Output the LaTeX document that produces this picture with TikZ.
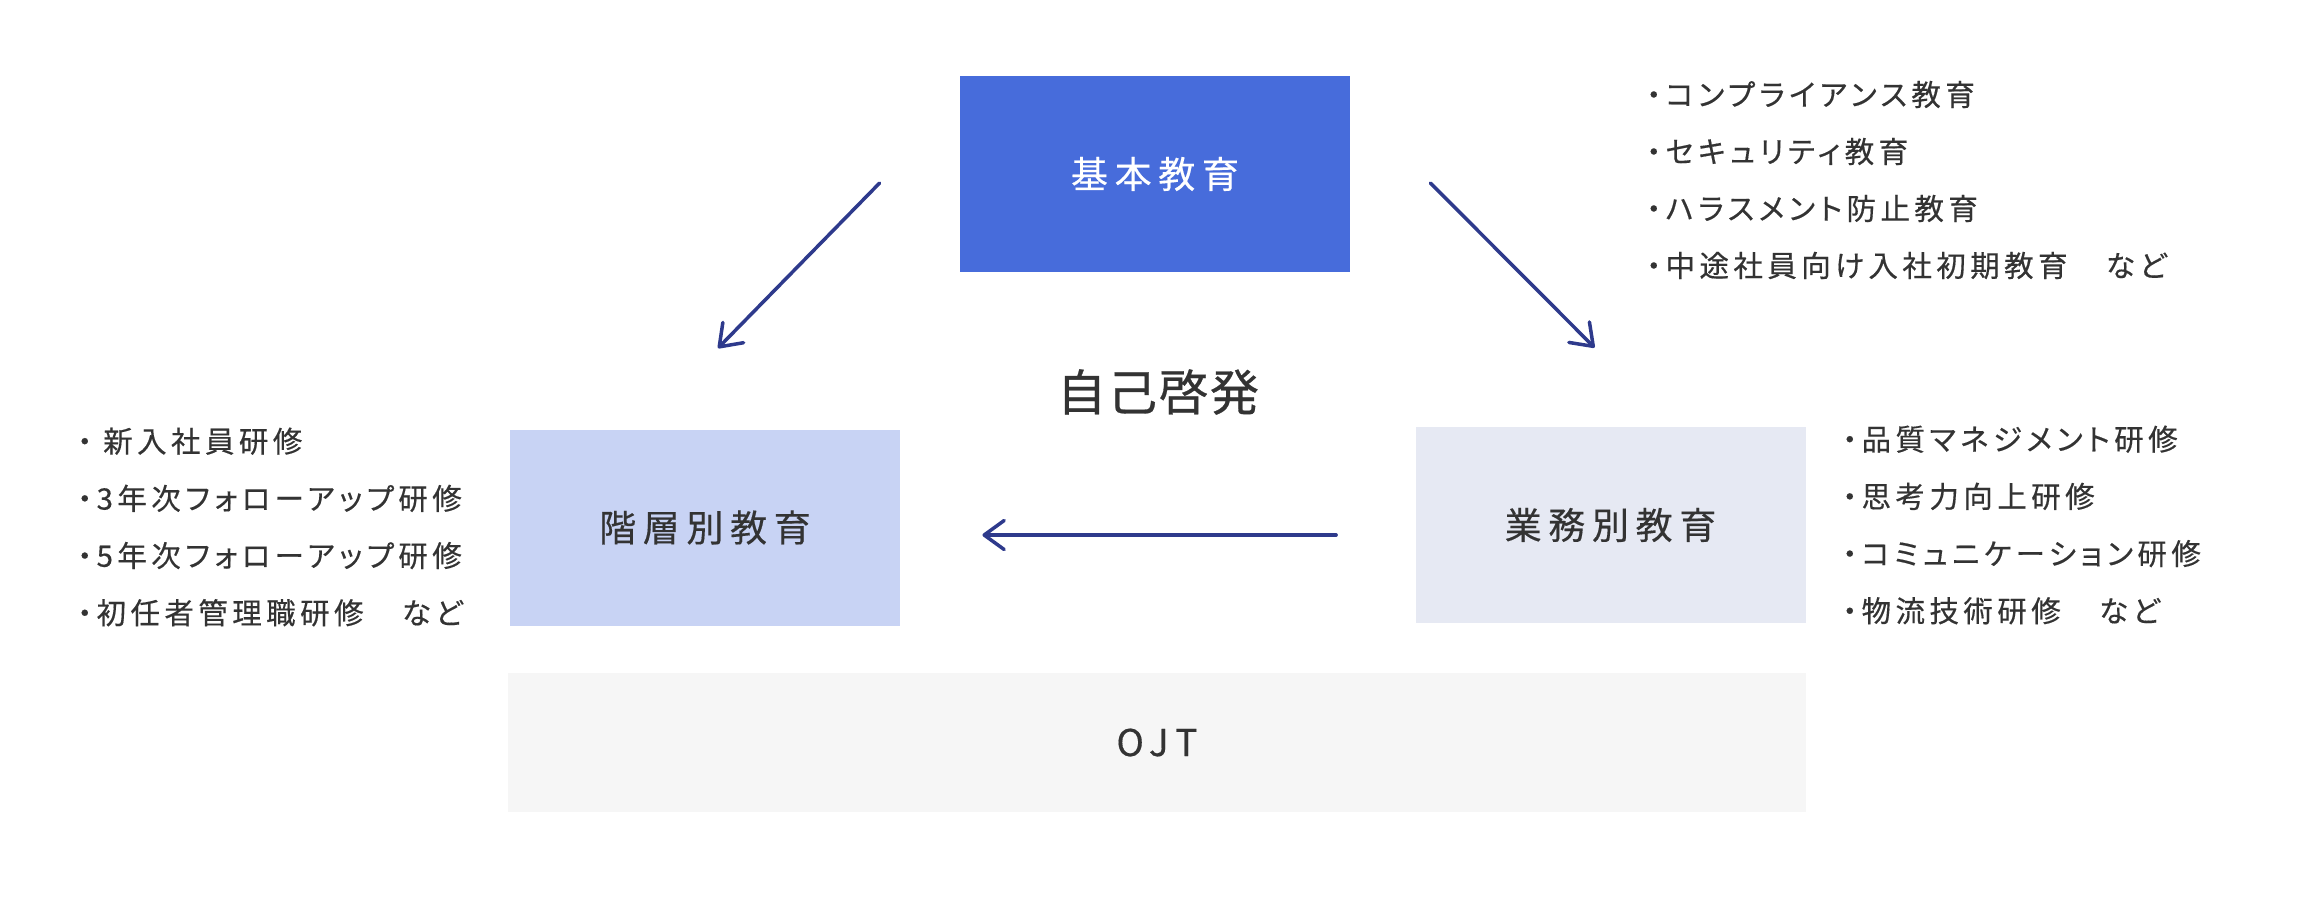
\documentclass[tikz,border=0pt]{standalone}
\usepackage{fontspec}
\setmainfont{Noto Sans CJK JP}
\newfontfamily\titlefont[LetterSpace=18,FakeBold=0.3]{Noto Sans CJK JP}
\newfontfamily\listfont[LetterSpace=15,RawFeature=+palt,FakeBold=0.4]{Noto Sans CJK JP}
\newfontfamily\selffont[LetterSpace=4,FakeBold=0.6]{Noto Sans CJK JP}
\usetikzlibrary{arrows.meta,calc}
\definecolor{kblue}{HTML}{476CDB}
\definecolor{klight}{HTML}{C8D3F4}
\definecolor{kgray}{HTML}{E6E9F3}
\definecolor{kojt}{HTML}{F6F6F6}
\definecolor{ktext}{HTML}{333333}
\definecolor{karrow}{HTML}{2E3A8C}
\begin{document}
\begin{tikzpicture}[x=0.5pt,y=-0.5pt,
  box/.style={inner sep=0pt, minimum width=195pt, minimum height=98pt,
    font=\titlefont\fontsize{18.5pt}{22pt}\selectfont, text=ktext},
  listtext/.style={inner sep=0pt, anchor=west, align=left, text=ktext},
  arr/.style={draw=karrow, line width=1.75pt, line cap=round,
    -{Straight Barb[length=10pt,width=14.5pt,round]}}]
\fill[white] (0,0) rectangle (2316,900);
\useasboundingbox (0,0) rectangle (2316,900);

\node[box, fill=kblue, text=white] (kihon) at (1155,174) {基本教育};
\node[box, fill=klight] (kaiso) at (705,527.5) {階層別教育};
\node[box, fill=kgray] (gyomu) at (1610.5,525) {業務別教育};
\node[box, fill=kojt, minimum width=649pt, minimum height=69.5pt] (ojt) at (1157,742.5) {OJT};
\node[inner sep=0pt, text=ktext, font=\selffont\fontsize{24.5pt}{28pt}\selectfont] (jiko) at (1158,392) {自己啓発};

\node[listtext, font=\listfont\fontsize{14.75pt}{28.5pt}\selectfont] (listkihon) at (1646,180)
  {・コンプライアンス教育\\・セキュリティ教育\\・ハラスメント防止教育\\・中途社員向け入社初期教育　など};
\node[listtext, font=\listfont\fontsize{14.75pt}{28.6pt}\selectfont] (listkaiso) at (77,527)
  {・ 新入社員研修\\・3年次フォローアップ研修\\・5年次フォローアップ研修\\・初任者管理職研修　など};
\node[listtext, font=\listfont\fontsize{14.75pt}{28.6pt}\selectfont] (listgyomu) at (1842,525)
  {・品質マネジメント研修\\・思考力向上研修\\・コミュニケーション研修\\・物流技術研修　など};

\coordinate (la) at ($(kihon.west)+(-80,9)$);
\coordinate (lb) at ($(kaiso.north)+(13,-81)$);
\coordinate (ra) at ($(kihon.east)+(80,9)$);
\coordinate (rb) at ($(gyomu.north)+(-16,-79)$);
\coordinate (ha) at ($(gyomu.west)+(-79,10)$);
\coordinate (hb) at ($(kaiso.east)+(82,7.5)$);
\draw[arr] (la) -- (lb);
\draw[arr] (ra) -- (rb);
\draw[arr] (ha) -- (hb);
\end{tikzpicture}
\end{document}
